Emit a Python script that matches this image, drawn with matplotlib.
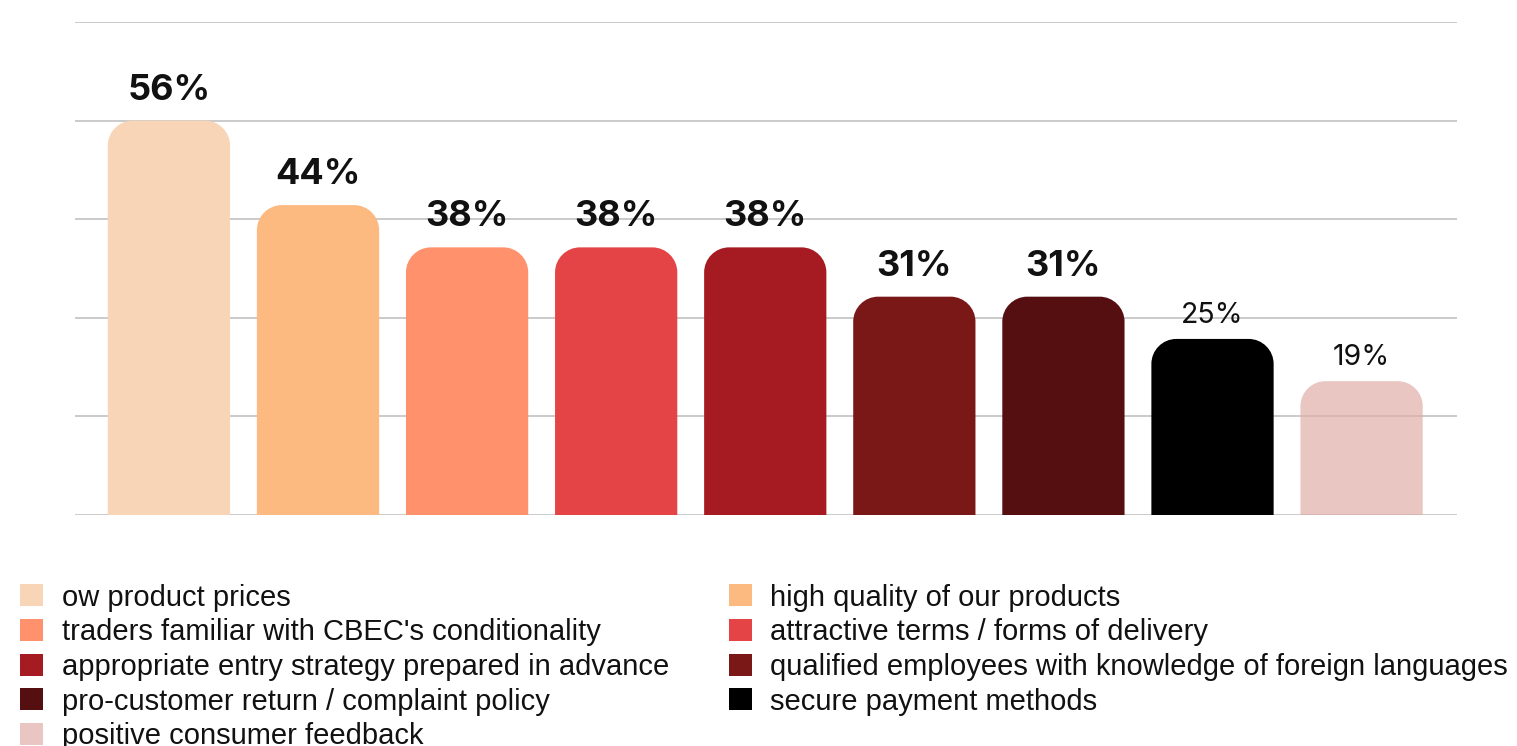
import matplotlib
matplotlib.use("Agg")
import matplotlib.pyplot as plt
from matplotlib.path import Path
from matplotlib.patches import PathPatch, Rectangle

# Share of respondents naming each success factor (%)
factors = [
    "ow product prices",
    "high quality of our products",
    "traders familiar with CBEC's conditionality",
    "attractive terms / forms of delivery",
    "appropriate entry strategy prepared in advance",
    "qualified employees with knowledge of foreign languages",
    "pro-customer return / complaint policy",
    "secure payment methods",
    "positive consumer feedback",
]
shares = [56, 44, 38, 38, 38, 31, 31, 25, 19]
value_labels = ["56%", "44%", "38%", "38%", "38%", "31%", "31%", "25%", "19%"]
colors = ["#F9D5B7", "#FDBA80", "#FF916C", "#E44446", "#A51B21",
          "#7A1818", "#550F11", "#000000", "#E0AEA9"]
alphas = [1, 1, 1, 1, 1, 1, 1, 1, 0.7]
y_ticks = [0, 14, 28, 42, 56, 70]

W, H, DPI = 1517, 746, 100
fig = plt.figure(figsize=(W / DPI, H / DPI), dpi=DPI)
ax = fig.add_axes([75 / W, 1 - 515 / H, (1457 - 75) / W, (515 - 22) / H])

xs = list(range(len(shares)))
ax.set_xlim(-0.63, 8.64)
ax.set_ylim(0, 70)
ax.set_yticks(y_ticks)
ax.yaxis.grid(True, color="#C6C6C6", linewidth=1.3)
ax.set_axisbelow(True)
ax.tick_params(left=False, bottom=False, labelleft=False, labelbottom=False)
for s in ax.spines.values():
    s.set_visible(False)

bar_w = 0.82
# corner radius of ~25 px converted to data units
rx = 25 * (ax.get_xlim()[1] - ax.get_xlim()[0]) / (1457 - 75)
ry = 25 * 70 / (515 - 22)
k = 0.5523

bars = ax.bar(xs, shares, width=bar_w, color="none", edgecolor="none")
for rect, c, a in zip(bars.patches, colors, alphas):
    x0 = rect.get_x()
    x1 = x0 + rect.get_width()
    h = rect.get_height()
    verts = [
        (x0, 0), (x0, h - ry),
        (x0, h - ry + k * ry), (x0 + rx - k * rx, h), (x0 + rx, h),
        (x1 - rx, h),
        (x1 - rx + k * rx, h), (x1, h - ry + k * ry), (x1, h - ry),
        (x1, 0), (x0, 0),
    ]
    codes = [Path.MOVETO, Path.LINETO,
             Path.CURVE4, Path.CURVE4, Path.CURVE4,
             Path.LINETO,
             Path.CURVE4, Path.CURVE4, Path.CURVE4,
             Path.LINETO, Path.CLOSEPOLY]
    ax.add_patch(PathPatch(Path(verts, codes), facecolor=c, edgecolor="none",
                           alpha=a, zorder=2))

for i, (x, v, lab) in enumerate(zip(xs, shares, value_labels)):
    if i < 7:
        ax.annotate(lab, (x, v), xytext=(0, 10), textcoords="offset points",
                    ha="center", va="bottom", fontsize=26, fontweight="bold",
                    family="Inter", color="#111111")
    else:
        ax.annotate(lab, (x, v), xytext=(0, 7), textcoords="offset points",
                    ha="center", va="bottom", fontsize=20.5,
                    family="Inter", color="#111111")

# two-column legend, filled row by row
col_marker_x = [20, 729]
col_text_x = [62, 770]
row_y = [595, 630, 664.5, 699, 733.5]
mw, mh = 23, 22
for i, (lab, c, a) in enumerate(zip(factors, colors, alphas)):
    col, row = i % 2, i // 2
    yc = row_y[row]
    fig.patches.append(Rectangle(
        (col_marker_x[col] / W, 1 - (yc + mh / 2) / H), mw / W, mh / H,
        transform=fig.transFigure, facecolor=c, alpha=a, edgecolor="none"))
    fig.text(col_text_x[col] / W, 1 - (yc + 10.5) / H, lab, ha="left",
             va="baseline", fontsize=21, family="Liberation Sans",
             color="#111111")

fig.savefig("out.png", dpi=DPI)
